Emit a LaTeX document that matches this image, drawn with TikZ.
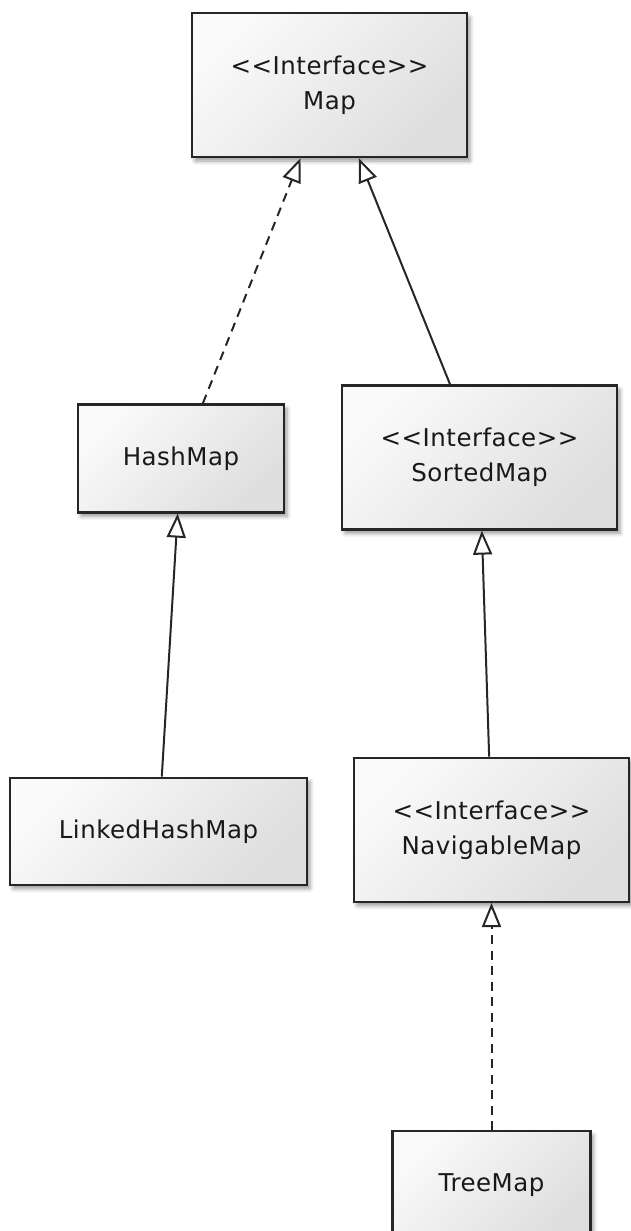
\documentclass[tikz,border=0pt]{standalone}
\usepackage{fontspec}
\setmainfont{DejaVu Sans}[LetterSpace=2]
\usepackage{tikz}
\usetikzlibrary{positioning,arrows.meta,shadows.blur}

\begin{document}
\begin{tikzpicture}[> = {Triangle[open, length=24pt, width=19pt]},
  line width=2pt, draw=black!85,
  box/.style={draw=black!85, line width=2.4pt, top color=black!2, bottom color=black!13, shading angle=45,
    blur shadow={shadow xshift=3pt, shadow yshift=-4pt, shadow blur radius=4pt, shadow opacity=40},
    align=center, text=black!90, inner sep=0pt, font=\fontsize{24.5}{35}\selectfont},
  iface/.style={box, minimum width=275pt, minimum height=144pt},
  cls/.style={box, minimum height=108pt},
  impl/.style={dash pattern=on 9pt off 6.5pt}]
\useasboundingbox (0,0) rectangle (630pt,-1231pt);

\node (map) [iface] at (329.5pt,-85pt) {<{}<Interface>{}>\\Map};
\node (hashmap) [cls, minimum width=206pt, below=245pt of map.south, xshift=-148.5pt] {HashMap};
\node (sortedmap) [iface, below=226pt of map.south, xshift=150pt] {<{}<Interface>{}>\\SortedMap};
\node (linked) [cls, minimum width=297pt, minimum height=107pt, below=263pt of hashmap.south, xshift=-22.5pt] {LinkedHashMap};
\node (navigable) [iface, below=226pt of sortedmap.south, xshift=12pt] {<{}<Interface>{}>\\NavigableMap};
\node (treemap) [cls, minimum width=198pt, below=227pt of navigable.south] {TreeMap};

\draw[->,impl] (hashmap) to (map);
\draw[->] (sortedmap) to (map);
\draw[->] (linked) to (hashmap);
\draw[->] (navigable) to (sortedmap);
\draw[->,impl] (treemap) to (navigable);
\end{tikzpicture}
\end{document}
